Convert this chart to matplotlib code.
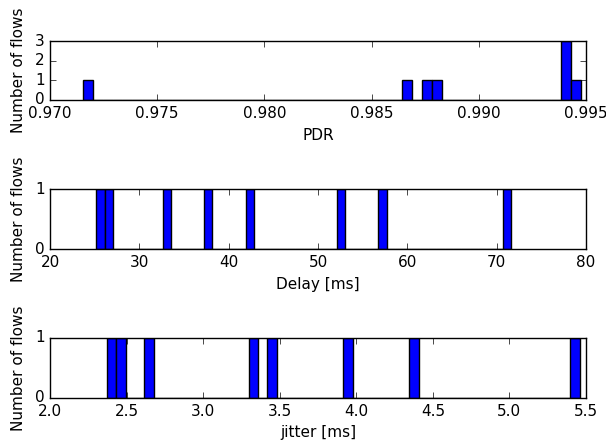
import matplotlib
matplotlib.use("Agg")
import matplotlib.pyplot as plt

# per-flow statistics
pdr = [0.97152, 0.9866, 0.98757, 0.98803, 0.9940, 0.9941, 0.9942, 0.99478]
delay = [25.19, 26.5, 33.1, 37.7, 42.4, 52.6, 57.2, 71.6]
jitter = [2.370, 2.46, 2.65, 3.33, 3.45, 3.94, 4.38, 5.458]

pdr_ticks = [0.970, 0.975, 0.980, 0.985, 0.990, 0.995]
delay_ticks = [20, 30, 40, 50, 60, 70, 80]
jitter_ticks = [2.0, 2.5, 3.0, 3.5, 4.0, 4.5, 5.0, 5.5]

plt.style.use("classic")
plt.rcParams["font.size"] = 11
plt.rcParams["savefig.facecolor"] = "white"

W, H = 606, 448
fig = plt.figure(figsize=(W / 100, H / 100), dpi=100, facecolor="white")

def px_axes(x0, y0, x1, y1):
    return fig.add_axes([x0 / W, 1 - y1 / H, (x1 - x0) / W, (y1 - y0) / H])

panels = [
    (pdr, "PDR", pdr_ticks, "%.3f", [0, 1, 2, 3], (41, 100)),
    (delay, "Delay [ms]", delay_ticks, "%d", [0, 1], (189, 249)),
    (jitter, "jitter [ms]", jitter_ticks, "%.1f", [0, 1], (338, 398)),
]

for vals, label, xt, fmt, yt, (top, bot) in panels:
    ax = px_axes(50, top, 586, bot)
    ax.hist(vals, bins=50, color="b", edgecolor="k", linewidth=1.0)
    ax.set_xlim(xt[0], xt[-1])
    ax.set_ylim(yt[0], yt[-1])
    ax.set_xticks(xt)
    ax.set_xticklabels([fmt % t for t in xt])
    ax.set_yticks(yt)
    ax.set_xlabel(label)
    ax.set_ylabel("Number of flows")
    ax.yaxis.set_label_coords(-0.045, 0.5)

fig.savefig("out.png", dpi=100, facecolor="white")
